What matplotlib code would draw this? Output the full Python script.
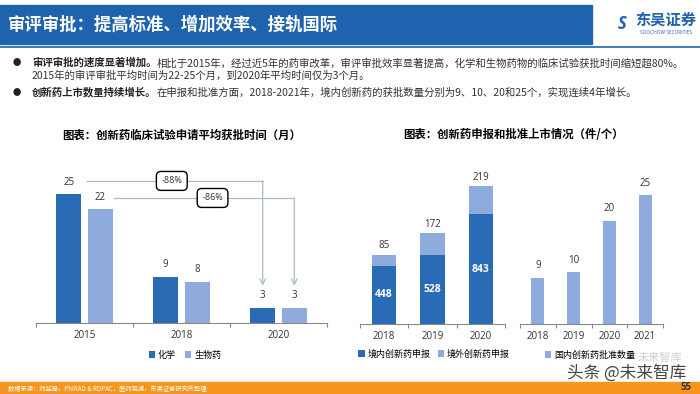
import matplotlib
matplotlib.use("Agg")
import matplotlib.pyplot as plt
from matplotlib.patches import Rectangle
from matplotlib.text import Annotation

plt.rcParams["font.family"] = ["Open Sans", "Noto Sans CJK SC", "DejaVu Sans"]

# ---- data ----
years_a = ["2015", "2018", "2020"]
chem_months = [25, 9, 3]
bio_months = [22, 8, 3]
drop_labels = ["-88%", "-86%"]

years_b = ["2018", "2019", "2020"]
domestic_apps = [448, 528, 843]
foreign_apps = [85, 172, 219]

years_c = ["2018", "2019", "2020", "2021"]
approved = [9, 10, 20, 25]

DARK = "#2A6BB5"
LIGHT = "#8EABDD"
BLUE = "#1F62AD"
ORANGE = "#F7961E"
ARROW = "#A9BBCA"
CJK = ["Noto Sans CJK SC", "DejaVu Sans"]

W, H = 700, 394
fig = plt.figure(figsize=(7, 3.94), dpi=100)


def box(x0, y0, x1, y1):
    return [x0 / W, 1 - y1 / H, (x1 - x0) / W, (y1 - y0) / H]


def px(x, y):
    return x / W, 1 - y / H


def style_axis(ax, n):
    ax.set_xlim(-0.5, n - 0.5)
    for s in ["left", "right", "top"]:
        ax.spines[s].set_visible(False)
    ax.spines["bottom"].set_color("#888888")
    ax.spines["bottom"].set_linewidth(0.8)
    ax.set_yticks([])
    ax.set_xticks([i - 0.5 for i in range(n + 1)], minor=True)
    ax.tick_params(axis="x", which="minor", length=3, color="#888888", width=0.8)
    ax.tick_params(axis="x", which="major", length=0, labelsize=7, pad=5,
                   labelcolor="#333333")


# ---- header ----
fig.patches.append(Rectangle(px(0, 44), 592 / W, 39 / H, transform=fig.transFigure,
                             color=BLUE, zorder=0))
fig.text(*px(8, 25), "审评审批：提高标准、增加效率、接轨国际", color="white",
         fontsize=12.5, fontweight="bold", va="center", family=CJK)
fig.text(*px(666, 20), "东吴证券", color=BLUE, fontsize=11, fontweight="bold",
         ha="center", va="center", family=CJK)
fig.text(*px(666, 32), "SOOCHOW SECURITIES", color=BLUE, fontsize=3.5,
         ha="center", va="center")
fig.text(*px(622, 24), "S", color=BLUE, fontsize=12, fontweight="bold",
         ha="center", va="center", style="italic")
fig.lines.append(plt.Line2D([0, 1], [1 - 47 / H] * 2, transform=fig.transFigure,
                            color=BLUE, lw=1.2))

# ---- bullets ----
bullets = [
    (63, "审评审批的速度显著增加。",
     "相比于2015年，经过近5年的药审改革，审评审批效率显著提高，化学和生物药物的临床试验获批时间缩短超80%。"),
    (76, "", "2015年的审评审批平均时间为22-25个月，到2020年平均时间仅为3个月。"),
    (92, "创新药上市数量持续增长。",
     "在申报和批准方面，2018-2021年，境内创新药的获批数量分别为9、10、20和25个，实现连续4年增长。"),
]
for y, bold, rest in bullets:
    if bold:
        fig.text(*px(13, y), "●", fontsize=6, va="center", color="#222222", family=CJK)
    t = fig.text(*px(32, y), bold, fontsize=7.5, fontweight="bold", va="center",
                 color="#222222", family=CJK)
    fig.add_artist(Annotation(rest, xy=(1, 0.5), xycoords=t, va="center", ha="left",
                              fontsize=7.5, color="#333333", family=CJK))

# ---- chart titles ----
fig.text(*px(182, 135), "图表：创新药临床试验申请平均获批时间（月）", fontsize=8.2,
         fontweight="bold", ha="center", va="center", family=CJK)
fig.text(*px(513, 135), "图表：创新药申报和批准上市情况（件/个）", fontsize=8.2,
         fontweight="bold", ha="center", va="center", family=CJK)

# ---- chart 1: approval time ----
ax1 = fig.add_axes(box(36, 168, 327, 323))
style_axis(ax1, len(years_a))
ax1.set_ylim(0, 30)
xs = range(len(years_a))
off, bw = 0.163, 0.26
b1 = ax1.bar([x - off for x in xs], chem_months, bw, color=DARK, label="化学")
b2 = ax1.bar([x + off for x in xs], bio_months, bw, color=LIGHT, label="生物药")
for bars in (b1, b2):
    for r in bars:
        ax1.text(r.get_x() + r.get_width() / 2, r.get_height() + 1.2, f"{r.get_height():g}",
                 ha="center", va="bottom", fontsize=7, color="#333333")
ax1.set_xticks(list(xs))
ax1.set_xticklabels(years_a)

# bracket arrows 2015 -> 2020
arrow_rows = [(27.5, 0.03, 2 - off, drop_labels[0], 0.90),
              (24.2, 0.30, 2 + off, drop_labels[1], 1.32)]
for yl, xstart, xend, lab, xl in arrow_rows:
    ax1.plot([xstart, xend], [yl, yl], color=ARROW, lw=0.9, clip_on=False)
    ax1.annotate("", xy=(xend, 7.2), xytext=(xend, yl),
                 arrowprops=dict(arrowstyle="->", color=ARROW, lw=0.9,
                                 shrinkA=0, shrinkB=0))
    ax1.text(xl, yl, lab, ha="center", va="center", fontsize=6.5, color="#333333",
             bbox=dict(boxstyle="round,pad=0.55,rounding_size=0.5", fc="white",
                       ec="black", lw=1))
fig.legend(handles=[b1, b2], loc="center", bbox_to_anchor=px(185, 355), ncol=2,
           frameon=False, prop={"family": CJK, "size": 6.5}, handlelength=0.7,
           handleheight=0.7, handletextpad=0.3, columnspacing=1.0)

# ---- chart 2: applications (stacked) ----
ax2 = fig.add_axes(box(360, 168, 505, 324))
style_axis(ax2, len(years_b))
ax2.set_ylim(0, 1200)
xs = range(len(years_b))
s1 = ax2.bar(xs, domestic_apps, 0.5, color=DARK, label="境内创新药申报")
s2 = ax2.bar(xs, foreign_apps, 0.5, bottom=domestic_apps, color=LIGHT,
             label="境外创新药申报")
for i, (d, f) in enumerate(zip(domestic_apps, foreign_apps)):
    ax2.text(i, d / 2, str(d), ha="center", va="center", fontsize=7.5,
             color="white", fontweight="bold")
    ax2.text(i, d + f + 25, str(f), ha="center", va="bottom", fontsize=7,
             color="#333333")
ax2.set_xticks(list(xs))
ax2.set_xticklabels(years_b)
fig.legend(handles=[s1, s2], loc="center", bbox_to_anchor=px(434, 354), ncol=2,
           frameon=False, prop={"family": CJK, "size": 6.5}, handlelength=0.7,
           handleheight=0.7, handletextpad=0.3, columnspacing=0.8)

# ---- chart 3: approvals ----
ax3 = fig.add_axes(box(520, 169, 663, 324))
style_axis(ax3, len(years_c))
ax3.set_ylim(0, 30)
xs = range(len(years_c))
c1 = ax3.bar(xs, approved, 0.37, color=LIGHT, label="国内创新药批准数量")
for r in c1:
    ax3.text(r.get_x() + r.get_width() / 2, r.get_height() + 1.2, f"{r.get_height():g}",
             ha="center", va="bottom", fontsize=7, color="#333333")
ax3.set_xticks(list(xs))
ax3.set_xticklabels(years_c)
fig.legend(handles=[c1], loc="center", bbox_to_anchor=px(590, 355), ncol=1,
           frameon=False, prop={"family": CJK, "size": 6.5}, handlelength=0.7,
           handleheight=0.7, handletextpad=0.3)

# ---- watermark ----
fig.text(*px(660, 358), "未来智库", fontsize=8, color="#D0D0D0", ha="center",
         va="center", family=CJK)
fig.text(*px(627, 373), "头条 @未来智库", fontsize=12, color="#444444", ha="center",
         va="center", family=CJK)

# ---- footer ----
fig.patches.append(Rectangle((0, 0), 1, 12 / H, transform=fig.transFigure,
                             color=ORANGE, zorder=0))
fig.text(*px(8, 388), "数据来源：药监局，PhIRAD & RDPAC，医药观澜，东吴证券研究所整理",
         fontsize=4.5, color="white", va="center", family=CJK)
fig.text(*px(692, 388), "55", fontsize=7, fontweight="bold", color="#333333",
         ha="right", va="center")

fig.savefig("out.png", dpi=100)
